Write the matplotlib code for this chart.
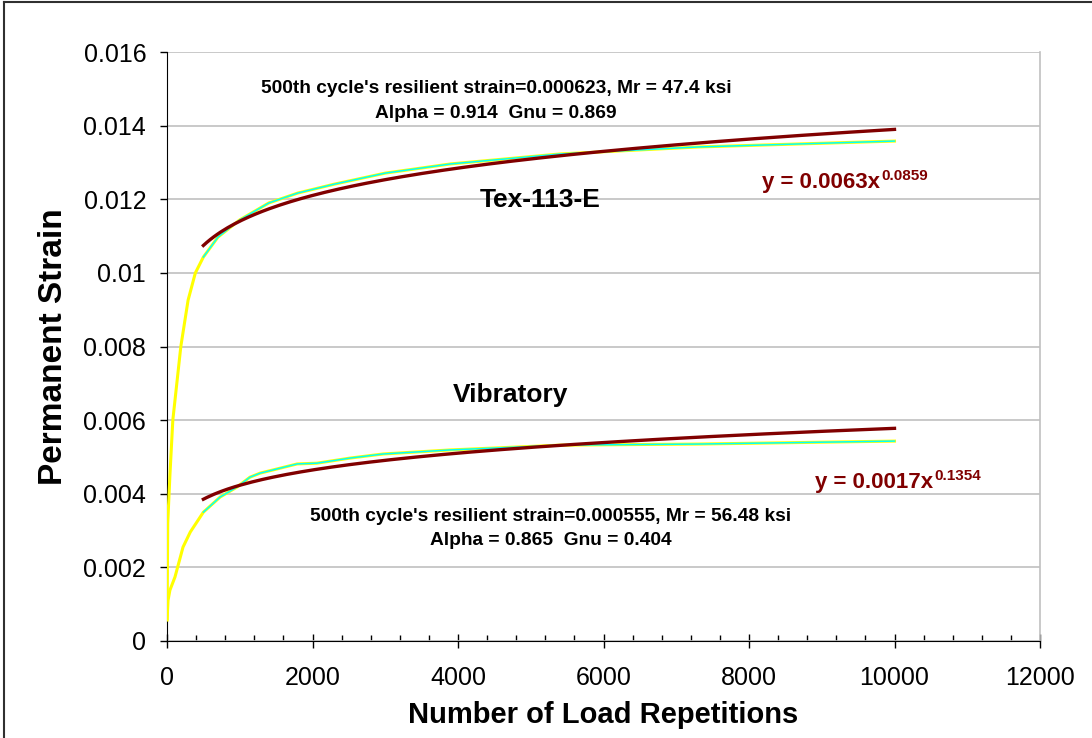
import numpy as np
import matplotlib
matplotlib.use("Agg")
import matplotlib.pyplot as plt
from matplotlib.lines import Line2D
from matplotlib.ticker import MultipleLocator, FuncFormatter

plt.rcParams['font.family'] = ['Liberation Sans', 'DejaVu Sans']

# Measured permanent strain, Tex-113-E compaction
tex_cycles = [1, 10, 40, 80, 190, 290, 390, 500, 700, 1000, 1400, 1800, 2300,
              3000, 3900, 5400, 7300, 10000]
tex_strain = [0.0006, 0.0032, 0.0045, 0.0060, 0.0080, 0.00926, 0.0100, 0.01043,
              0.01097, 0.01144, 0.01190, 0.01217, 0.01241, 0.01271, 0.01296,
              0.01323, 0.01342, 0.01358]

# Measured permanent strain, vibratory compaction
vib_cycles = [1, 14, 40, 110, 220, 320, 500, 730, 960, 1140, 1280, 1790, 2060,
              2520, 2970, 3890, 5400, 7300, 10000]
vib_strain = [0.00057, 0.0011, 0.00138, 0.00174, 0.00255, 0.00296, 0.00350,
              0.00391, 0.00418, 0.00445, 0.00456, 0.00481, 0.00483, 0.00497,
              0.00508, 0.00519, 0.00532, 0.00535, 0.00543]

# Power-law fits y = a * x^b over cycles 500-10000
fit_a = [0.0063, 0.00166]
fit_b = [0.0859, 0.1354]
fit_start, fit_end = 500, 10000

tex_note = ["500th cycle's resilient strain=0.000623, Mr = 47.4 ksi",
            "Alpha = 0.914  Gnu = 0.869"]
vib_note = ["500th cycle's resilient strain=0.000555, Mr = 56.48 ksi",
            "Alpha = 0.865  Gnu = 0.404"]

fig = plt.figure(figsize=(10.92, 7.38), dpi=100)
ax = fig.add_axes([167 / 1092, 1 - 641 / 738, 873 / 1092, 589 / 738])

# outer chart frame
fig.add_artist(Line2D([4 / 1092, 4 / 1092], [0, 1 - 2 / 738], color='#303030', lw=1.5))
fig.add_artist(Line2D([4 / 1092, 1], [1 - 2 / 738, 1 - 2 / 738], color='#303030', lw=1.5))

for cyc, strain in [(tex_cycles, tex_strain), (vib_cycles, vib_strain)]:
    cyc = np.array(cyc)
    strain = np.array(strain)
    ax.plot(cyc, strain, color='#FFFF00', lw=2.2, zorder=3)
    m = cyc >= fit_start
    ax.plot(cyc[m], strain[m], color='#00FFFF', lw=1.1, zorder=4)

xf = np.linspace(fit_start, fit_end, 200)
for a, b in zip(fit_a, fit_b):
    ax.plot(xf, a * xf ** b, color='#800000', lw=2.4, zorder=5)

ax.set_xlim(0, 12000)
ax.set_ylim(0, 0.016)
ax.yaxis.set_major_locator(MultipleLocator(0.002))
ax.xaxis.set_major_locator(MultipleLocator(2000))
ax.xaxis.set_minor_locator(MultipleLocator(400))
ax.yaxis.set_major_formatter(FuncFormatter(lambda v, p: '%g' % round(v, 6)))
ax.xaxis.set_major_formatter(FuncFormatter(lambda v, p: '%d' % v))
ax.grid(axis='y', color='#c0c0c0', lw=1.2)
ax.set_axisbelow(True)

ax.spines['top'].set_visible(False)
ax.spines['right'].set_color('#c0c0c0')
ax.spines['right'].set_linewidth(1.2)
ax.spines['left'].set_color('black')
ax.spines['bottom'].set_color('black')

ax.tick_params(axis='y', which='major', direction='out', length=5, width=1,
               labelsize=18, pad=10)
ax.tick_params(axis='x', which='major', direction='inout', length=10, width=1,
               labelsize=18, pad=13)
ax.tick_params(axis='x', which='minor', direction='in', length=4, width=1)

ax.set_xlabel('Number of Load Repetitions', fontsize=21, fontweight='bold', labelpad=8)
ax.set_ylabel('Permanent Strain', fontsize=24, fontweight='bold', labelpad=10)

bold = dict(fontweight='bold', ha='center', va='center')
ax.text(4522, 0.01500, tex_note[0], fontsize=13.8, **bold)
ax.text(4522, 0.01434, tex_note[1], fontsize=13.8, **bold)
ax.text(5278, 0.00337, vib_note[0], fontsize=13.8, **bold)
ax.text(5278, 0.00272, vib_note[1], fontsize=13.8, **bold)
ax.text(5127, 0.01198, 'Tex-113-E', fontsize=19, **bold)
ax.text(4715, 0.00668, 'Vibratory', fontsize=19, **bold)

# trendline equations, exponent drawn as a raised smaller label
eq_pos = [(8179, 0.01230), (8907, 0.00415)]
for (ex, ey), a, b in zip(eq_pos, fit_a, fit_b):
    t = ax.text(ex, ey, 'y = %.4fx' % a, fontsize=16, fontweight='bold',
                color='#800000', ha='left', va='baseline')
    ax.annotate('%.4f' % b, xy=(1, 0.62), xycoords=t, xytext=(1, 0),
                textcoords='offset points', fontsize=11, fontweight='bold',
                color='#800000', ha='left', va='baseline')

fig.savefig('out.png', dpi=100)
